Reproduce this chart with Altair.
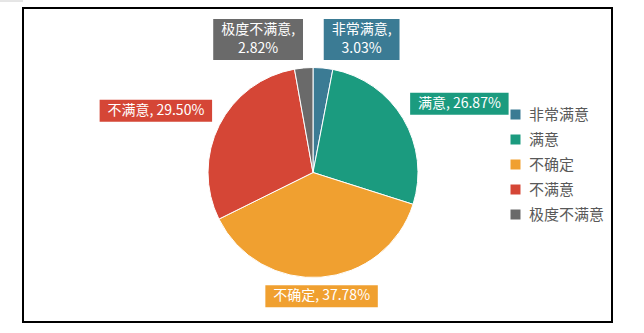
import altair as alt
import numpy as np
import pandas as pd

# ---- data ----
categories = ["非常满意", "满意", "不确定", "不满意", "极度不满意"]
percents = [3.03, 26.87, 37.78, 29.50, 2.82]
colors = ["#3B7B94", "#1B9B7F", "#F0A030", "#D54636", "#6A6A6A"]

# ---- layout / style constants ----
FONT = "Noto Sans CJK SC"
CX, CY, R = 313, 172.5, 105
GAP = 8
LABEL_FS = 14
LINE_H = 19
PAD_X = 8
BOX_H1 = 22


def text_width(s, fs):
    w = 0.0
    for ch in s:
        if ord(ch) > 0x2E80:
            w += 1.0
        elif ch.isdigit():
            w += 0.56
        elif ch in ".,":
            w += 0.27
        elif ch == " ":
            w += 0.25
        elif ch == "%":
            w += 0.86
        else:
            w += 0.6
    return w * fs


pct = np.array(percents)
cum = np.cumsum(pct) - pct / 2.0
mid = cum / pct.sum() * 2 * np.pi

rows = []
for i, (c, p, col, a) in enumerate(zip(categories, percents, colors, mid)):
    label = f"{c},\n{p:.2f}%" if p < 5 else f"{c}, {p:.2f}%"
    lines = label.split("\n")
    n = len(lines)
    w = max(text_width(l, LABEL_FS) for l in lines) + 2 * PAD_X
    h = BOX_H1 + (n - 1) * LINE_H
    sx, sy = np.sin(a), -np.cos(a)
    px, py = CX + (R + GAP) * sx, CY + (R + GAP) * sy
    hx = 0.0 if abs(np.cos(a)) > 0.997 else np.sign(sx)
    bcx = px + hx * w / 2
    bcy = py + np.sign(sy) * h / 2
    rows.append(dict(cat=c, pct=p, order=i, color=col, label=label,
                     bx=bcx - w / 2, bx2=bcx + w / 2, by=bcy - h / 2, by2=bcy + h / 2,
                     tx=bcx, ty=bcy - (n - 1) * LINE_H / 2))
df = pd.DataFrame(rows)
dummy = pd.DataFrame({"a": [0]})

border = alt.Chart(dummy).mark_rect(fillOpacity=0, stroke="black", strokeWidth=2).encode(
    x=alt.value(23), x2=alt.value(612), y=alt.value(8), y2=alt.value(322))
corner = alt.Chart(dummy).mark_rule(color="#cccccc", strokeWidth=1).encode(
    x=alt.value(0), x2=alt.value(23), y=alt.value(1))

pie = alt.Chart(df).mark_arc(outerRadius=R, stroke="white", strokeWidth=1).encode(
    theta=alt.Theta("pct:Q", stack=True),
    order=alt.Order("order:Q"),
    color=alt.Color("cat:N", sort=categories,
                    scale=alt.Scale(domain=categories, range=colors),
                    legend=alt.Legend(orient="none", legendX=508, legendY=107, title=None,
                                      symbolType="square", symbolSize=100, symbolStrokeWidth=0,
                                      labelFontSize=15, labelFont=FONT, labelColor="#595959",
                                      rowPadding=9, padding=0, labelOffset=6)),
    x=alt.value(CX), y=alt.value(CY))

boxes = alt.Chart(df).mark_rect().encode(
    x=alt.X("bx:Q", scale=None, axis=None), x2="bx2:Q",
    y=alt.Y("by:Q", scale=None, axis=None), y2="by2:Q",
    fill=alt.Fill("color:N", scale=None))

texts = alt.Chart(df).mark_text(font=FONT, fontSize=LABEL_FS, color="white",
                                lineBreak="\n", lineHeight=LINE_H,
                                align="center", baseline="middle").encode(
    x=alt.X("tx:Q", scale=None, axis=None),
    y=alt.Y("ty:Q", scale=None, axis=None),
    text="label:N")

chart = alt.layer(border, corner, pie, boxes, texts).properties(
    width=644, height=333, autosize=alt.AutoSizeParams(type="none"), padding=0
).configure_view(stroke=None)

chart.save("out.html", embed_options={"renderer": "svg", "actions": False})
